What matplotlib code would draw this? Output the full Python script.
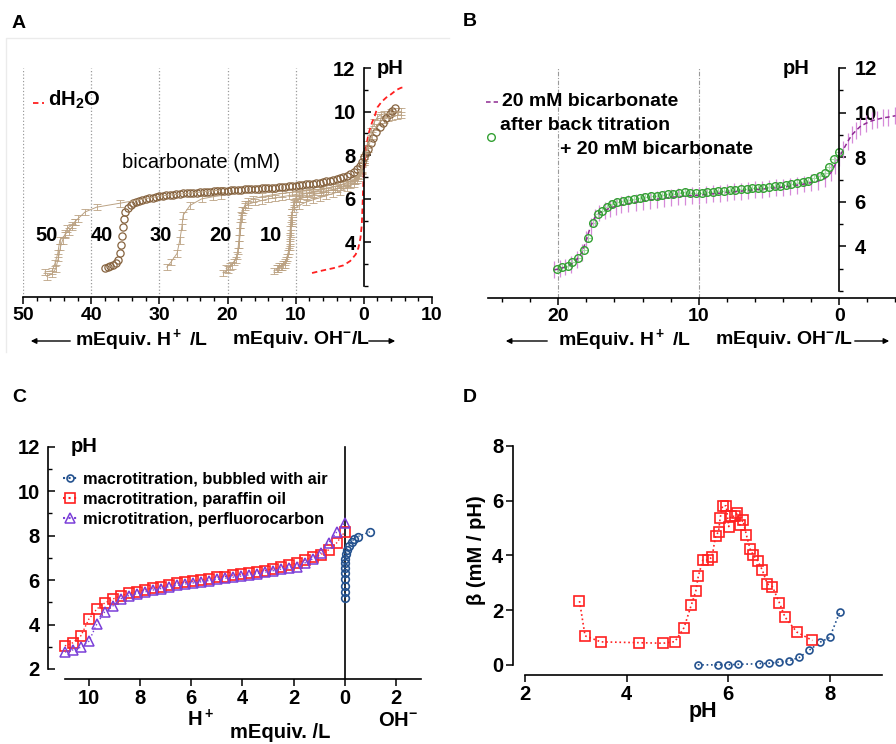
import numpy as np
import matplotlib
matplotlib.use("Agg")
import matplotlib.pyplot as plt
from matplotlib.lines import Line2D
from matplotlib.patches import FancyArrowPatch
from matplotlib.ticker import FixedLocator

# ---------------- panel A: titration of bicarbonate solutions ----------------
# 40 mM bicarbonate (open circles)
x40 = [38.0, 37.6, 37.2, 36.8, 36.4, 36.0, 35.8, 35.6, 35.5, 35.4, 35.2, 35.0,
       34.6, 34.2, 33.8, 33.4, 33.0, 32.5, 32.0, 31.5, 31.0, 30.5, 30.0, 29.5,
       29.0, 28.5, 28.0, 27.5, 27.0, 26.5, 26.0, 25.5, 25.0, 24.5, 24.0, 23.5,
       23.0, 22.5, 22.0, 21.5, 21.0, 20.5, 20.0, 19.5, 19.0, 18.5, 18.0, 17.5,
       17.0, 16.5, 16.0, 15.5, 15.0, 14.5, 14.0, 13.5, 13.0, 12.5, 12.0, 11.5,
       11.0, 10.5, 10.0, 9.5, 9.0, 8.5, 8.0, 7.5, 7.0, 6.5, 6.0, 5.5, 5.0, 4.5,
       4.0, 3.5, 3.0, 2.5, 2.0, 1.5, 1.0, 0.6, 0.3, 0.0, -0.3, -0.6, -1.0,
       -1.4, -1.8, -2.3, -2.8, -3.3, -3.8, -4.2, -4.6]
ph40 = [2.85, 2.88, 2.92, 2.97, 3.05, 3.2, 3.5, 3.9, 4.3, 4.7, 5.1, 5.4,
        5.6, 5.72, 5.8, 5.86, 5.91, 5.96, 6.0, 6.03, 6.06, 6.09, 6.12, 6.14,
        6.16, 6.18, 6.2, 6.22, 6.24, 6.25, 6.26, 6.27, 6.28, 6.29, 6.3, 6.31,
        6.32, 6.33, 6.34, 6.35, 6.36, 6.37, 6.38, 6.39, 6.4, 6.41, 6.42, 6.43,
        6.44, 6.45, 6.46, 6.47, 6.48, 6.49, 6.5, 6.51, 6.52, 6.53, 6.54, 6.56,
        6.57, 6.59, 6.6, 6.62, 6.64, 6.66, 6.68, 6.7, 6.72, 6.75, 6.78, 6.81,
        6.84, 6.87, 6.9, 6.95, 7.0, 7.06, 7.13, 7.22, 7.35, 7.5, 7.7, 7.9, 8.1,
        8.3, 8.55, 8.8, 9.05, 9.3, 9.5, 9.7, 9.9, 10.05, 10.15]

# 10 mM replicates
x10_a = [13.2, 12.6, 12.0, 11.5, 11.1, 10.9, 10.8, 10.7, 10.5, 10.2, 9.5, 8.5,
         7.5, 6.5, 5.5, 4.5, 3.5, 2.5, 1.5, 0.8, 0.3, 0.0]
ph10_a = [2.7, 2.8, 2.9, 3.1, 3.5, 4.0, 4.6, 5.1, 5.4, 5.55, 5.7, 5.85,
          5.95, 6.05, 6.15, 6.25, 6.35, 6.5, 6.7, 6.95, 7.3, 7.8]
x10_b = [12.8, 12.2, 11.6, 11.2, 10.9, 10.7, 10.6, 10.5, 10.3, 10.0, 9.3, 8.3,
         7.3, 6.3, 5.3, 4.3, 3.3, 2.3, 1.3, 0.7, 0.3, 0.0]
ph10_b = [2.8, 2.9, 3.0, 3.3, 3.8, 4.4, 5.0, 5.4, 5.7, 5.85, 6.0, 6.12,
          6.2, 6.28, 6.36, 6.45, 6.55, 6.68, 6.85, 7.05, 7.35, 7.8]
x10_c = [12.5, 11.9, 11.4, 11.0, 10.8, 10.6, 10.5, 10.3, 10.0, 9.5, 8.5, 7.5,
         6.5, 5.5, 4.5, 3.5, 2.5, 1.5, 0.8, 0.3, 0.0]
ph10_c = [2.9, 3.0, 3.2, 3.6, 4.2, 4.9, 5.4, 5.8, 6.05, 6.15, 6.25, 6.32,
          6.4, 6.48, 6.55, 6.63, 6.75, 6.9, 7.1, 7.4, 7.9]

# 20 mM replicates
x20_a = [20.6, 20.0, 19.4, 18.8, 18.5, 18.3, 18.2, 18.0, 17.8, 17.5, 17.0, 16.0,
         15.0, 14.0, 13.0, 12.0, 11.0, 10.0, 9.0, 8.0, 6.0, 4.0, 2.0, 1.0, 0.0]
ph20_a = [2.6, 2.75, 2.95, 3.2, 3.6, 4.2, 4.8, 5.25, 5.5, 5.65, 5.75, 5.85,
          5.92, 6.0, 6.05, 6.1, 6.15, 6.2, 6.25, 6.28, 6.35, 6.45, 6.65, 6.9, 7.7]
x20_b = [20.2, 19.7, 19.1, 18.6, 18.3, 18.1, 17.9, 17.7, 17.4, 17.0, 16.3, 15.0,
         13.5, 12.0, 10.5, 9.0, 7.5, 6.0, 4.5, 3.0, 1.5, 0.5, 0.0]
ph20_b = [2.8, 2.9, 3.1, 3.4, 3.9, 4.5, 5.1, 5.5, 5.75, 5.88, 6.0, 6.1,
          6.18, 6.25, 6.3, 6.35, 6.4, 6.46, 6.55, 6.66, 6.85, 7.2, 7.8]

# 30 mM
x30 = [28.9, 28.3, 27.4, 27.0, 26.7, 26.5, 25.5, 23.8, 22.1, 21.0]
ph30 = [2.87, 3.1, 3.5, 4.1, 4.7, 5.25, 5.7, 6.0, 6.1, 6.15]

# 50 mM replicates
x50_a = [46.8, 45.7, 45.3, 44.9, 44.6, 43.8, 43.5, 42.8, 42.4, 41.9, 40.9,
         39.2, 35.8, 29.9, 21.1]
ph50_a = [2.65, 2.7, 3.05, 3.5, 4.1, 4.35, 4.65, 4.8, 4.95, 5.1, 5.4,
          5.62, 5.8, 6.13, 6.4]
x50_b = [46.5, 45.8, 45.2, 44.8, 44.5, 44.2, 43.8, 43.3, 42.8, 42.3]
ph50_b = [2.45, 2.55, 2.8, 3.3, 3.8, 4.1, 4.4, 4.5, 4.7, 4.95]

# alkaline branches
x_alk_a = [0.0, -0.5, -1.0, -1.5, -2.0, -2.5, -3.0, -4.0, -5.0, -5.5]
ph_alk_a = [7.8, 8.5, 9.1, 9.5, 9.75, 9.85, 9.9, 9.95, 10.0, 10.0]
x_alk_b = [0.0, -0.6, -1.2, -1.8, -2.4, -3.0, -3.6, -4.2, -4.8, -5.4]
ph_alk_b = [7.7, 8.3, 8.9, 9.3, 9.55, 9.65, 9.72, 9.78, 9.82, 9.85]

# distilled water
x_h2o = [7.6, 6.0, 4.5, 3.0, 2.0, 1.2, 0.8, 0.5, 0.3, 0.2, 0.1, 0.0, -0.2,
         -0.4, -0.7, -1.2, -1.6, -2.0, -2.6, -3.3, -4.0, -4.8, -5.5, -6.0]
ph_h2o = [2.6, 2.72, 2.82, 2.95, 3.15, 3.45, 3.75, 4.2, 4.8, 5.6, 6.5, 7.3, 7.9,
          8.5, 9.0, 9.5, 9.8, 10.2, 10.45, 10.65, 10.8, 11.0, 11.1, 11.1]

conc_labels = ["50", "40", "30", "20", "10"]

# ---------------- panel B: forward and back titration ----------------
x_fwd = [20.3, 19.9, 19.5, 19.1, 18.7, 18.3, 18.0, 17.7, 17.4, 17.1, 16.7, 16.3,
         15.9, 15.5, 15.0, 14.5, 14.0, 13.5, 13.0, 12.5, 12.0, 11.5, 11.0, 10.5,
         10.0, 9.5, 9.0, 8.5, 8.0, 7.5, 7.0, 6.5, 6.0, 5.5, 5.0, 4.5, 4.0, 3.5,
         3.0, 2.5, 2.0, 1.5, 1.0, 0.6, 0.3, 0.0, -0.3, -0.6, -0.9, -1.2, -1.5,
         -1.9, -2.3, -2.7, -3.1, -3.5, -4.0]
ph_fwd = [2.95, 3.0, 3.08, 3.2, 3.4, 3.75, 4.3, 4.9, 5.3, 5.5, 5.62, 5.72,
          5.8, 5.86, 5.92, 5.98, 6.03, 6.08, 6.12, 6.16, 6.2, 6.23, 6.26, 6.28,
          6.3, 6.33, 6.36, 6.39, 6.42, 6.45, 6.48, 6.51, 6.54, 6.57, 6.6, 6.63,
          6.66, 6.7, 6.75, 6.8, 6.86, 6.93, 7.05, 7.3, 7.65, 8.0, 8.35, 8.7, 9.0,
          9.2, 9.38, 9.52, 9.63, 9.7, 9.76, 9.8, 9.86]
err_fwd = 0.38

x_back = [20.1, 19.7, 19.3, 19.0, 18.6, 18.2, 17.9, 17.5, 17.2, 16.9, 16.5, 16.2,
          15.8, 15.4, 15.0, 14.6, 14.2, 13.8, 13.4, 13.0, 12.6, 12.2, 11.8, 11.4,
          11.0, 10.6, 10.2, 9.8, 9.4, 9.0, 8.6, 8.2, 7.8, 7.4, 7.0, 6.6, 6.2,
          5.8, 5.4, 5.0, 4.6, 4.2, 3.8, 3.4, 3.0, 2.6, 2.2, 1.8, 1.4, 1.0, 0.7,
          0.4, 0.0]
ph_back = [2.99, 3.07, 3.14, 3.3, 3.48, 3.84, 4.36, 5.05, 5.45, 5.6, 5.75, 5.92,
           6.0, 6.05, 6.08, 6.12, 6.16, 6.2, 6.24, 6.27, 6.3, 6.33, 6.36, 6.4,
           6.42, 6.38, 6.39, 6.41, 6.43, 6.45, 6.47, 6.5, 6.52, 6.54, 6.56, 6.58,
           6.6, 6.62, 6.64, 6.66, 6.69, 6.72, 6.75, 6.79, 6.83, 6.88, 6.92, 7.05,
           7.16, 7.28, 7.56, 7.92, 8.23]
err_back_x = 0.3
err_back_y = 0.15

# ---------------- panel C: macro- and microtitration ----------------
x_c = [10.94, 10.63, 10.31, 10.0, 9.69, 9.38, 9.06, 8.75, 8.44, 8.13, 7.81, 7.5,
       7.19, 6.88, 6.56, 6.25, 5.94, 5.63, 5.31, 5.0, 4.69, 4.38, 4.06, 3.75,
       3.44, 3.13, 2.81, 2.5, 2.19, 1.88, 1.56, 1.25, 0.94, 0.63, 0.31, 0.0]
ph_paraffin = [3.04, 3.18, 3.5, 4.25, 4.7, 4.97, 5.15, 5.3, 5.4, 5.47, 5.56, 5.64,
               5.7, 5.78, 5.85, 5.9, 5.95, 6.0, 6.06, 6.12, 6.16, 6.22, 6.26, 6.3,
               6.37, 6.43, 6.5, 6.58, 6.66, 6.77, 6.9, 7.05, 7.14, 7.36, 7.68, 8.17]
ph_perfluoro = [2.76, 2.86, 2.98, 3.25, 4.03, 4.58, 4.84, 5.16, 5.3, 5.39, 5.47, 5.55,
                5.62, 5.7, 5.76, 5.82, 5.87, 5.92, 5.98, 6.03, 6.08, 6.13, 6.18, 6.23,
                6.29, 6.35, 6.42, 6.49, 6.55, 6.6, 6.77, 6.95, 7.22, 7.68, 8.17, 8.58]
x_air = [0.0, 0.0, 0.0, 0.0, 0.0, 0.0, 0.0, -0.02, -0.06, -0.1, -0.17, -0.27,
         -0.36, -0.5, -0.98]
ph_air = [5.2, 5.45, 5.75, 6.05, 6.3, 6.55, 6.75, 6.95, 7.15, 7.35, 7.55, 7.7,
          7.85, 7.95, 8.17]
legend_c = ["macrotitration, bubbled with air",
            "macrotitration, paraffin oil",
            "microtitration, perfluorocarbon"]

# ---------------- panel D: buffer capacity ----------------
ph_beta_oil = [3.07, 3.18, 3.49, 4.24, 4.72, 4.95, 5.13, 5.27, 5.36, 5.41, 5.5, 5.6,
               5.68, 5.75, 5.81, 5.84, 5.89, 5.96, 6.01, 6.05, 6.13, 6.18, 6.23,
               6.29, 6.36, 6.43, 6.49, 6.58, 6.67, 6.77, 6.87, 7.01, 7.12, 7.35, 7.66]
beta_oil = [2.33, 1.06, 0.84, 0.81, 0.79, 0.85, 1.36, 2.17, 2.68, 3.23, 3.83, 3.83,
            3.93, 4.69, 4.87, 5.35, 5.81, 5.81, 5.05, 5.44, 5.42, 5.54, 5.11,
            5.28, 4.73, 4.24, 4.02, 3.8, 3.47, 2.96, 2.86, 2.26, 1.74, 1.2, 0.89]
ph_beta_air = [5.4, 5.8, 6.0, 6.2, 6.6, 6.8, 7.0, 7.2, 7.4, 7.6, 7.8, 8.0, 8.2]
beta_air = [0.0, 0.0, 0.0, 0.02, 0.04, 0.06, 0.1, 0.15, 0.27, 0.54, 0.82, 1.0, 1.94]

# colours
TAN = "#bba283"
BROWN = "#86633f"
RED = "#ff2020"
MAGENTA_LINE = "#8e2a92"
MAGENTA_ERR = "#d68ad9"
GREEN = "#33a033"
GREEN_ERR = "#a8dba8"
BLUE = "#24528f"
PURPLE = "#7b3fd8"

plt.rcParams.update({
    "font.family": ["Liberation Sans", "DejaVu Sans"],
    "font.weight": "bold",
    "font.size": 13,
    "mathtext.fontset": "custom",
    "mathtext.rm": "Liberation Sans:bold",
    "mathtext.it": "Liberation Sans:bold",
    "mathtext.bf": "Liberation Sans:bold",
    "axes.linewidth": 1.2,
    "xtick.major.width": 1.1,
    "ytick.major.width": 1.1,
    "xtick.minor.width": 1.0,
    "ytick.minor.width": 1.0,
    "xtick.major.size": 5,
    "ytick.major.size": 5,
    "xtick.minor.size": 3,
    "ytick.minor.size": 3,
})

W, H = 896, 744
fig = plt.figure(figsize=(W / 100, H / 100), dpi=100)


def add_ax(l, t, r, b):
    ax = fig.add_axes([l / W, 1 - b / H, (r - l) / W, (b - t) / H])
    ax.patch.set_alpha(0)
    return ax


def ftext(x, y, s, **kw):
    kw.setdefault("ha", "left")
    kw.setdefault("va", "center")
    return fig.text(x / W, 1 - y / H, s, **kw)


def farrow(x0, x1, y):
    fig.add_artist(FancyArrowPatch((x0 / W, 1 - y / H), (x1 / W, 1 - y / H),
                                   transform=fig.transFigure, arrowstyle="-|>",
                                   mutation_scale=8, lw=1, color="k"))


def fpoly(xs, ys, **kw):
    fig.add_artist(Line2D([x / W for x in xs], [1 - y / H for y in ys],
                          transform=fig.transFigure, **kw))


# ======== A ========
# faint frame along the top and left of the panel
fpoly([6, 6, 449], [352, 38, 38], color="#ebebeb", lw=1)
axA = add_ax(23, 61.5, 432, 297)
axA.set_xlim(50, -10)
axA.set_ylim(1.5, 12.3)
axA.vlines([50, 40, 30, 20, 10], 1.5, 12, color="#9a9a9a", ls=":", lw=0.9)

for xs, ys in [(x10_a, ph10_a), (x10_b, ph10_b), (x10_c, ph10_c),
               (x20_a, ph20_a), (x20_b, ph20_b), (x30, ph30),
               (x50_a, ph50_a), (x50_b, ph50_b),
               (x_alk_a, ph_alk_a), (x_alk_b, ph_alk_b)]:
    axA.errorbar(xs, ys, yerr=0.15, color=TAN, lw=0.7, elinewidth=0.6,
                 capsize=3, capthick=0.6)
axA.plot(x40, ph40, "o", mfc="none", mec=BROWN, ms=5.2, mew=0.9)
axA.plot(x_h2o, ph_h2o, color=RED, lw=1.3, dashes=(3, 2))

axA.spines["top"].set_visible(False)
axA.spines["right"].set_visible(False)
axA.spines["left"].set_position(("data", 0))
axA.spines["left"].set_bounds(2, 12)
axA.spines["bottom"].set_bounds(-10, 50)
axA.set_xticks([50, 40, 30, 20, 10, 0, -10])
axA.set_xticklabels(["50", "40", "30", "20", "10", "0", "10"])
axA.xaxis.set_minor_locator(FixedLocator(np.arange(-10, 51, 2)))
axA.set_yticks([4, 6, 8, 10, 12])
axA.yaxis.set_minor_locator(FixedLocator([2, 3, 5, 7, 9, 11]))
axA.tick_params(axis="y", which="both", direction="in", labelsize=14.5, pad=6)
axA.tick_params(axis="x", which="both", direction="out", labelsize=14, pad=2)

ftext(377, 68, "pH", fontsize=14.5)
for lab, xp in zip(conc_labels, [47, 102, 161, 220, 271]):
    ftext(xp, 236, lab, ha="center", fontsize=14.5)
ftext(201, 163, "bicarbonate (mM)", ha="center", fontsize=14.5, fontweight="normal")
fpoly([33, 44], [103, 103], color=RED, lw=1.3, dashes=(3, 2))
ftext(48, 100, "dH$_2$O", fontsize=14.5)
ftext(75, 340, "mEquiv. H$^+$ /L", fontsize=14)
ftext(232, 340, "mEquiv. OH$^{-}$/L", fontsize=14)
farrow(73, 28, 341)
farrow(366, 398, 341)

# ======== B ========
axB = add_ax(488, 61.3, 896, 298)
axB.set_xlim(25, -4.04)
axB.set_ylim(1.69, 12.3)
axB.vlines([20, 10], 1.69, 12, color="#9a9a9a", ls=(0, (4, 1.5, 1, 1.5)), lw=0.8)
axB.errorbar(x_fwd, ph_fwd, yerr=err_fwd, color=MAGENTA_LINE, ecolor=MAGENTA_ERR,
             lw=1.1, dashes=(3, 2), elinewidth=0.9, capsize=0)
axB.errorbar(x_back, ph_back, xerr=err_back_x, yerr=err_back_y, fmt="o",
             mfc="none", mec=GREEN, ms=5.5, mew=1.0, ecolor=GREEN_ERR,
             elinewidth=0.8, capsize=0)
axB.spines["top"].set_visible(False)
axB.spines["left"].set_visible(False)
axB.spines["right"].set_position(("data", 0))
axB.spines["right"].set_bounds(2, 12)
axB.yaxis.tick_right()
axB.set_xticks([20, 10, 0])
axB.xaxis.set_minor_locator(FixedLocator(np.arange(-4, 25, 2)))
axB.set_yticks([4, 6, 8, 10, 12])
axB.yaxis.set_minor_locator(FixedLocator([2, 3, 5, 7, 9, 11]))
axB.tick_params(axis="y", which="both", direction="out", labelsize=14.5, pad=6)
axB.tick_params(axis="x", which="both", direction="out", labelsize=14, pad=2)

ftext(783, 68, "pH", fontsize=14.5)
fpoly([486, 498], [102, 102], color=MAGENTA_LINE, lw=1.1, dashes=(3, 2))
ftext(502, 102, "20 mM bicarbonate", fontsize=14)
fig.add_artist(Line2D([491 / W], [1 - 137 / H], marker="o", mfc="none", mec=GREEN,
                      ms=5.5, mew=1.0, transform=fig.transFigure))
ftext(500, 126, "after back titration", fontsize=14)
ftext(560, 149, "+ 20 mM bicarbonate", fontsize=14)
ftext(558, 340, "mEquiv. H$^+$ /L", fontsize=14)
ftext(715, 340, "mEquiv. OH$^{-}$/L", fontsize=14)
farrow(550, 503, 341)
farrow(852, 892, 341)

# ======== C ========
axC = add_ax(48, 440, 421, 679)
axC.set_xlim(11.6, -2.98)
axC.set_ylim(1.55, 12.3)
axC.plot([0, 0], [1.55, 12], color="k", lw=1.2)
axC.plot(x_air, ph_air, ":", marker="o", color=BLUE, mfc="none", ms=5.5, mew=1.2, lw=1)
axC.plot(x_c, ph_paraffin, ":", marker="s", color=RED, mfc="none", ms=7, mew=1.2, lw=1)
axC.plot(x_c, ph_perfluoro, ":", marker="^", color=PURPLE, mfc="none", ms=6.5,
         mew=1.1, lw=1)
axC.spines["top"].set_visible(False)
axC.spines["right"].set_visible(False)
axC.spines["left"].set_bounds(2, 12)
axC.spines["bottom"].set_bounds(-2.98, 10.94)
axC.set_xticks([10, 8, 6, 4, 2, 0, -2])
axC.set_xticklabels(["10", "8", "6", "4", "2", "0", "2"])
axC.set_yticks([2, 4, 6, 8, 10, 12])
axC.yaxis.set_minor_locator(FixedLocator([3, 5, 7, 9, 11]))
axC.tick_params(axis="y", which="both", direction="in", labelsize=14.5, pad=6)
axC.tick_params(axis="x", which="both", direction="out", labelsize=14.5, pad=2)

handles_c = [Line2D([], [], ls=":", marker="o", color=BLUE, mfc="none", ms=5, mew=1.2),
             Line2D([], [], ls=":", marker="s", color=RED, mfc="none", ms=7, mew=1.2),
             Line2D([], [], ls=":", marker="^", color=PURPLE, mfc="none", ms=6.5, mew=1.1)]
fig.legend(handles_c, legend_c, loc="upper left", bbox_to_anchor=(63 / W, 1 - 472 / H),
           frameon=False, handlelength=0.9, handletextpad=0.35, labelspacing=0.3,
           borderaxespad=0, borderpad=0, prop=dict(weight="bold", size=11.8))
ftext(71, 446, "pH", fontsize=14.5)
ftext(187, 720, "H$^+$", fontsize=14.5)
ftext(230, 732, "mEquiv. /L", fontsize=14.5)
ftext(378, 720, "OH$^{-}$", fontsize=14.5)

# ======== D ========
axD = add_ax(513, 437.6, 882, 675)
axD.set_xlim(1.76, 9.03)
axD.set_ylim(-0.37, 8.3)
axD.plot(ph_beta_air, beta_air, ":", marker="o", color=BLUE, mfc="none", ms=5,
         mew=1.2, lw=1.2)
axD.plot(ph_beta_oil, beta_oil, ":", marker="s", color=RED, mfc="none", ms=6.8,
         mew=1.2, lw=1.2)
axD.spines["top"].set_visible(False)
axD.spines["right"].set_visible(False)
axD.spines["left"].set_bounds(0, 8)
axD.spines["bottom"].set_bounds(2, 9.03)
axD.set_xticks([2, 4, 6, 8])
axD.set_yticks([0, 2, 4, 6, 8])
axD.tick_params(axis="both", direction="out", labelsize=14.5, pad=2)
ftext(703, 712, "pH", ha="center", fontsize=15.5)
ftext(476, 550, "β (mM / pH)", ha="center", rotation=90, fontsize=14.5)

# panel letters
for lab, xp, yp in [("A", 12, 23), ("B", 463, 21), ("C", 12, 398), ("D", 463, 398)]:
    ftext(xp, yp, lab, fontsize=14)

fig.savefig("out.png", dpi=100)
